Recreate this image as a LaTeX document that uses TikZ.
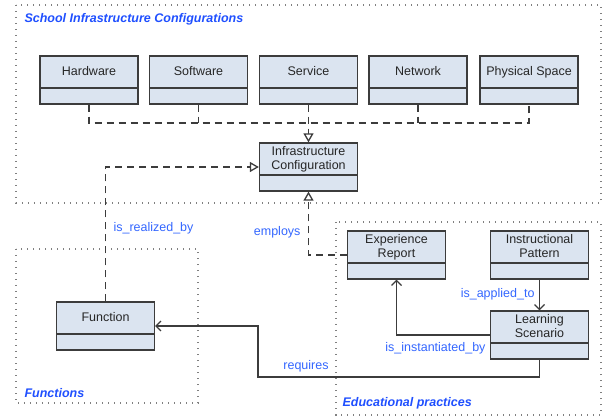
\documentclass[tikz,border=0pt]{standalone}
\usepackage{fontspec}
\setmainfont{Liberation Sans}
\usetikzlibrary{arrows.meta}

\definecolor{caixa}{RGB}{219,228,240}
\definecolor{borda}{RGB}{60,60,60}
\definecolor{azul}{RGB}{51,102,255}
\definecolor{azultitulo}{RGB}{31,79,255}

\begin{document}
\begin{tikzpicture}[x=1pt, y=-1pt,
    classe/.style={draw=borda, fill=caixa, line width=1.3pt, minimum width=98pt,
        minimum height=48pt, inner sep=0pt, align=center, text=black!85,
        font=\fontsize{12.5}{14}\selectfont, text depth=18pt,
        path picture={\draw[borda, line width=1.3pt]
            ([yshift=16pt]path picture bounding box.south west) --
            ([yshift=16pt]path picture bounding box.south east);}},
    quadro/.style={draw=gray, line width=1.2pt, dash pattern=on 1.2pt off 4.8pt},
    tracejado/.style={draw=borda, line width=1.3pt, dash pattern=on 7pt off 5pt},
    solido/.style={draw=borda, line width=1.2pt},
    realiza/.style={-{Triangle[open, length=9pt, width=10pt, fill=white]}},
    assoc/.style={-{Straight Barb[length=5pt, width=10pt]}},
    rotulo/.style={text=azul, font=\fontsize{12.5}{14}\selectfont},
    titulo/.style={text=azultitulo, font=\fontsize{12.5}{14}\selectfont\bfseries\itshape, anchor=west}]

        \useasboundingbox (0,0) rectangle (606,417);

        % molduras
        \draw[quadro] (16,5) rectangle (601,203);
        \draw[quadro] (16,249) rectangle (198,403);
        \draw[quadro] (336,222) rectangle (601,415);

        \node[titulo] (t-infra) at (21,19) {School Infrastructure Configurations};
        \node[titulo] (t-func) at (21,393) {Functions};
        \node[titulo] (t-edu) at (339,403) {Educational practices};

        % classes de infraestrutura
        \foreach \nome/\txt/\x in {hw/Hardware/89, sw/Software/198.5, serv/Service/308.5,
                                   net/Network/418, fis/Physical Space/529}
            \node[classe] (\nome) at (\x,80) {\txt};

        \node[classe] (infra) at (308.5,167) {Infrastructure\\Configuration};

        % funcoes e praticas
        \node[classe] (func) at (105.5,326) {Function};
        \node[classe] (exp) at (396.5,255) {Experience\\Report};
        \node[classe] (padrao) at (539.5,255) {Instructional\\Pattern};
        \node[classe] (cenario) at (539.5,335) {Learning\\Scenario};

        % generalizacao
        \coordinate (barra) at (308.5,123);
        \draw[tracejado] (hw.south) |- (barra) -| (fis.south);
        \foreach \nome in {sw,net}
            \draw[tracejado] (\nome.south) -- (\nome.south |- barra);
        \draw[tracejado, realiza] (serv.south) -- (infra.north);

        \draw[tracejado, realiza] (func.north) |- (infra.west);
        \draw[tracejado, realiza] (exp.west) -| (infra.south);

        % associacoes
        \draw[solido, assoc] (padrao.south) -- (cenario.north);
        \draw[solido, assoc] (cenario.west) -| (exp.south);
        \coordinate (canto) at (258,377);
        \draw[solido, assoc] (cenario.south) |- (canto) |- (func.east);

        % rotulos
        \node[rotulo, anchor=west] (r-real) at (110,228) {is\_realized\_by};
        \node[rotulo, anchor=east] (r-emp) at (304,232) {employs};
        \node[rotulo, anchor=east] (r-apl) at (538,294) {is\_applied\_to};
        \node[rotulo, anchor=east] (r-inst) at (489,348) {is\_instantiated\_by};
        \node[rotulo] (r-req) at (306,366) {requires};

    \end{tikzpicture}
\end{document}
